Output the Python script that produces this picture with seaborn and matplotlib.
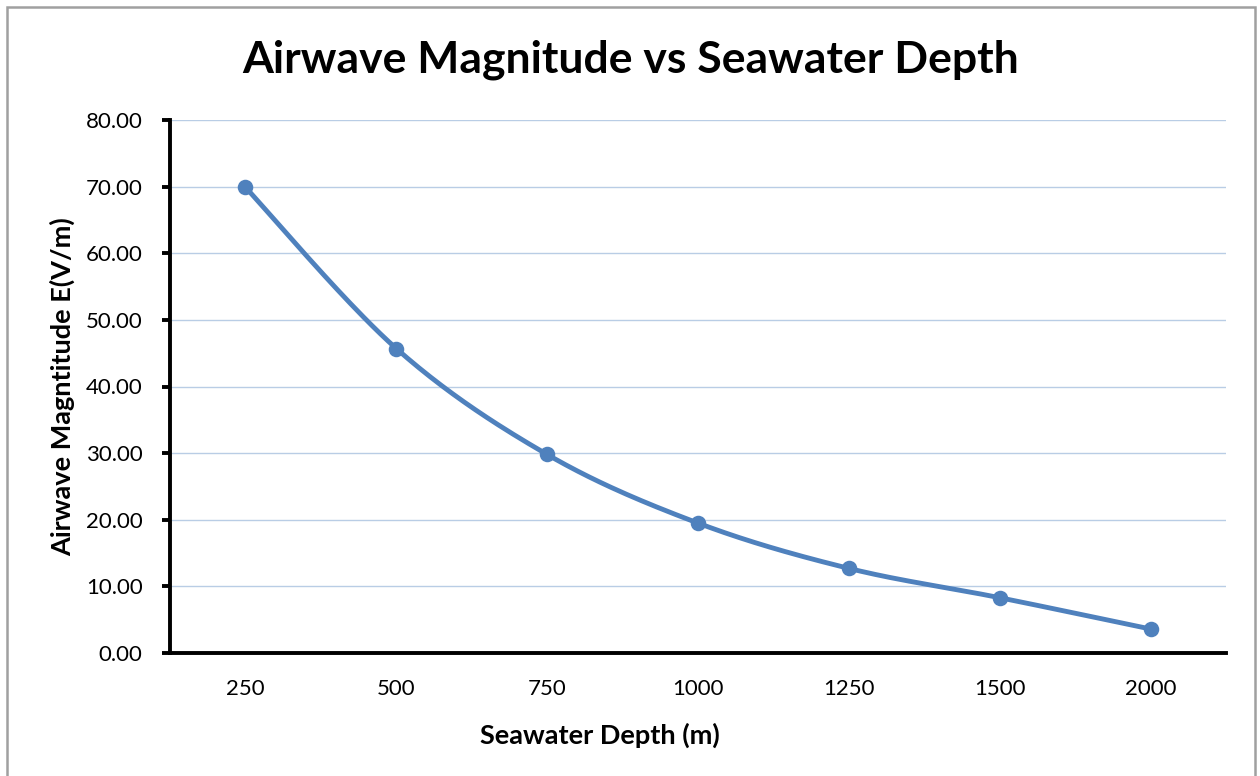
import numpy as np
import pandas as pd
import matplotlib
matplotlib.use("Agg")
import matplotlib.pyplot as plt
from matplotlib.patches import Rectangle
import seaborn as sns

# Data
depth_labels = ["250", "500", "750", "1000", "1250", "1500", "2000"]
magnitude = [69.9, 45.7, 29.8, 19.5, 12.7, 8.3, 3.6]
y_ticks = [0, 10, 20, 30, 40, 50, 60, 70, 80]

LINE_COLOR = "#4F81BD"
GRID_COLOR = "#B9CDE5"

sns.set_theme(style="white")
plt.rcParams["font.family"] = ["Lato", "DejaVu Sans"]
plt.rcParams["text.color"] = "black"
plt.rcParams["xtick.color"] = "black"
plt.rcParams["ytick.color"] = "black"

df = pd.DataFrame({"pos": np.arange(len(depth_labels)), "depth": depth_labels,
                   "E": magnitude})


def smooth_curve(x, y, n=40):
    """Catmull-Rom style Bezier smoothing through every point."""
    x = np.asarray(x, float)
    y = np.asarray(y, float)
    px, py = [], []
    for i in range(len(x) - 1):
        x0, y0 = (x[i - 1], y[i - 1]) if i > 0 else (x[i], y[i])
        x3, y3 = (x[i + 2], y[i + 2]) if i + 2 < len(x) else (x[i + 1], y[i + 1])
        x1, y1 = x[i], y[i]
        x2, y2 = x[i + 1], y[i + 1]
        c1x, c1y = x1 + (x2 - x0) / 6, y1 + (y2 - y0) / 6
        c2x, c2y = x2 - (x3 - x1) / 6, y2 - (y3 - y1) / 6
        t = np.linspace(0, 1, n, endpoint=(i == len(x) - 2))
        b0, b1, b2, b3 = (1 - t) ** 3, 3 * t * (1 - t) ** 2, 3 * t ** 2 * (1 - t), t ** 3
        px.append(b0 * x1 + b1 * c1x + b2 * c2x + b3 * x2)
        py.append(b0 * y1 + b1 * c1y + b2 * c2y + b3 * y2)
    return np.concatenate(px), np.concatenate(py)


sx, sy = smooth_curve(df["pos"], df["E"])
curve = pd.DataFrame({"pos": sx, "E": sy})

fig = plt.figure(figsize=(12.6, 7.76), dpi=100)
ax = fig.add_axes([170 / 1260, 1 - 653 / 776, (1226 - 170) / 1260, (653 - 120) / 776])

sns.lineplot(data=curve, x="pos", y="E", ax=ax, color=LINE_COLOR, lw=3.5,
             sort=False, estimator=None, zorder=3)
sns.scatterplot(data=df, x="pos", y="E", ax=ax, color=LINE_COLOR, s=125,
                edgecolor=LINE_COLOR, linewidth=0, zorder=4)

ax.set_xlim(-0.5, len(depth_labels) - 0.5)
ax.set_ylim(0, 80)
ax.set_xticks(df["pos"])
ax.set_xticklabels(depth_labels)
ax.set_yticks(y_ticks)
ax.set_yticklabels([f"{v:.2f}" for v in y_ticks])
ax.set_xlabel("")
ax.set_ylabel("")

ax.yaxis.grid(True, color=GRID_COLOR, lw=1.0)
ax.xaxis.grid(False)
ax.set_axisbelow(True)

for side in ("top", "right"):
    ax.spines[side].set_visible(False)
for side in ("left", "bottom"):
    ax.spines[side].set_color("black")
    ax.spines[side].set_linewidth(2.8)

ax.tick_params(axis="y", direction="out", length=5.8, width=2.8, color="black",
               labelsize=16, pad=14, left=True)
ax.tick_params(axis="x", length=0, labelsize=16, pad=19, bottom=False)

fig.text(631 / 1260, 1 - 60 / 776, "Airwave Magnitude vs Seawater Depth",
         ha="center", va="center", fontsize=32, fontweight="bold")
fig.text(600 / 1260, 1 - 735 / 776, "Seawater Depth (m)",
         ha="center", va="center", fontsize=19.5, fontweight="bold")
fig.text(62 / 1260, 1 - 387 / 776, "Airwave Magntitude E(V/m)",
         ha="center", va="center", rotation=90, fontsize=19.5, fontweight="bold")

# Outer chart frame
fig.patches.append(Rectangle((7 / 1260, -0.01), (1255 - 7) / 1260, 1 - 7 / 776 + 0.01,
                             transform=fig.transFigure, fill=False,
                             edgecolor="#A0A0A0", lw=1.8))

fig.savefig("out.png", dpi=100)
